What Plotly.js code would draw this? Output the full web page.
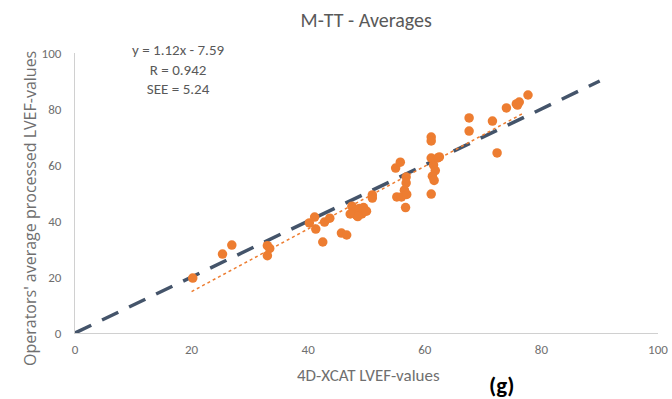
<!DOCTYPE html>
<html>
<head>
<meta charset="utf-8">
<script src="https://cdn.plot.ly/plotly-3.0.1.min.js"></script>
<style>html,body{margin:0;padding:0;background:#fff}#chart{width:672px;height:399px}</style>
</head>
<body>
<div id="chart"></div>
<script>
// Data
const xcatValues = [20.2, 25.3, 26.9, 33.0, 33.4, 33.0,
  40.2, 41.1, 41.3, 42.5, 42.8, 43.7, 45.7, 46.6,
  47.5, 47.8, 48.3, 48.8, 49.2, 49.5, 50.0, 48.5, 47.2,
  51.0, 51.0, 55.0, 55.8, 55.2, 56.0, 56.8, 56.8, 56.5, 56.9, 56.7,
  61.1, 61.1, 61.1, 61.5, 61.8, 61.3, 61.6, 62.2, 62.5, 61.1,
  67.6, 67.6, 71.6, 72.4, 74.0, 75.7, 76.2, 75.9, 77.7];
const operatorValues = [19.6, 28.2, 31.4, 31.2, 30.2, 27.6,
  39.3, 41.4, 37.1, 32.5, 39.6, 41.0, 35.7, 35.0,
  45.3, 43.0, 42.0, 44.5, 42.5, 44.8, 43.5, 41.6, 42.5,
  49.3, 48.2, 58.9, 61.0, 48.6, 48.6, 55.7, 53.6, 51.0, 49.5, 44.8,
  70.0, 68.6, 62.5, 60.0, 58.0, 56.0, 54.5, 62.5, 62.9, 49.6,
  76.8, 72.1, 75.7, 64.3, 80.4, 81.8, 82.5, 81.4, 85.0];
const identityX = [0, 90];
const identityY = [0, 90];
const trendX = [20, 77];
const trendY = [14.8, 78.6];
const axisTicks = [0, 20, 40, 60, 80, 100];
const statLines = ["y = 1.12x - 7.59", "R = 0.942", "SEE = 5.24"];

const narrow = "Carlito, Calibri, 'Liberation Sans Narrow', 'DejaVu Sans Condensed', 'Liberation Sans', sans-serif";
const grey = "#595959";
const tickGrey = "#6f6f6f";

const traces = [
  {x: identityX, y: identityY, mode: "lines", type: "scatter",
   line: {color: "#44546A", width: 3.5, dash: "18px,12px"}, hoverinfo: "skip"},
  {x: xcatValues, y: operatorValues, mode: "markers", type: "scatter",
   marker: {color: "#ED7D31", size: 9.5}},
  {x: trendX, y: trendY, mode: "lines", type: "scatter",
   line: {color: "#ED7D31", width: 1.5, dash: "dot"}, hoverinfo: "skip"}
];

const L = 75, T = 53, W = 583, H = 280;
const px = (x) => (x - L) / W;
const py = (y) => (T + H - y) / H;

const layout = {
  width: 672, height: 399,
  margin: {l: L, r: 672 - L - W, t: T, b: 399 - T - H},
  paper_bgcolor: "#fff", plot_bgcolor: "#fff",
  showlegend: false,
  font: {family: narrow, color: grey, size: 12},
  title: {text: "M-TT - Averages", x: 0.545, xanchor: "center", y: 0.95, yanchor: "middle",
          font: {family: narrow, size: 20, color: grey}},
  xaxis: {range: [0, 100], tickvals: axisTicks, ticktext: axisTicks.map(String),
          showgrid: false, zeroline: false, showline: true, linecolor: "#D0D0D0", linewidth: 1,
          ticks: "", ticklabelstandoff: 4, tickfont: {size: 13, color: tickGrey, family: narrow}},
  yaxis: {range: [0, 100], tickvals: axisTicks, ticktext: axisTicks.map(String),
          showgrid: false, zeroline: false, showline: true, linecolor: "#D0D0D0", linewidth: 1,
          ticks: "", ticklabelstandoff: 10, tickfont: {size: 13, color: tickGrey, family: narrow}},
  annotations: [
    {text: statLines.join("<br>"), x: px(178), y: py(39), xref: "paper", yref: "paper",
     xanchor: "center", yanchor: "top", showarrow: false, align: "center",
     font: {size: 15, color: grey, family: narrow}},
    {text: "4D-XCAT LVEF-values", x: px(368), y: py(375), xref: "paper", yref: "paper",
     xanchor: "center", yanchor: "middle", showarrow: false,
     font: {size: 17, color: tickGrey, family: narrow}},
    {text: "Operators' average processed LVEF-values", x: px(30), y: py(209), xref: "paper", yref: "paper",
     xanchor: "center", yanchor: "middle", showarrow: false, textangle: -90,
     font: {size: 16, color: tickGrey, family: "'Open Sans', 'Noto Sans', sans-serif"}},
    {text: "<b>(g)</b>", x: px(501), y: py(385), xref: "paper", yref: "paper",
     xanchor: "center", yanchor: "middle", showarrow: false,
     font: {size: 23, color: "#000", family: narrow}}
  ]
};

Plotly.newPlot("chart", traces, layout, {displayModeBar: false, staticPlot: true});
</script>
</body>
</html>
